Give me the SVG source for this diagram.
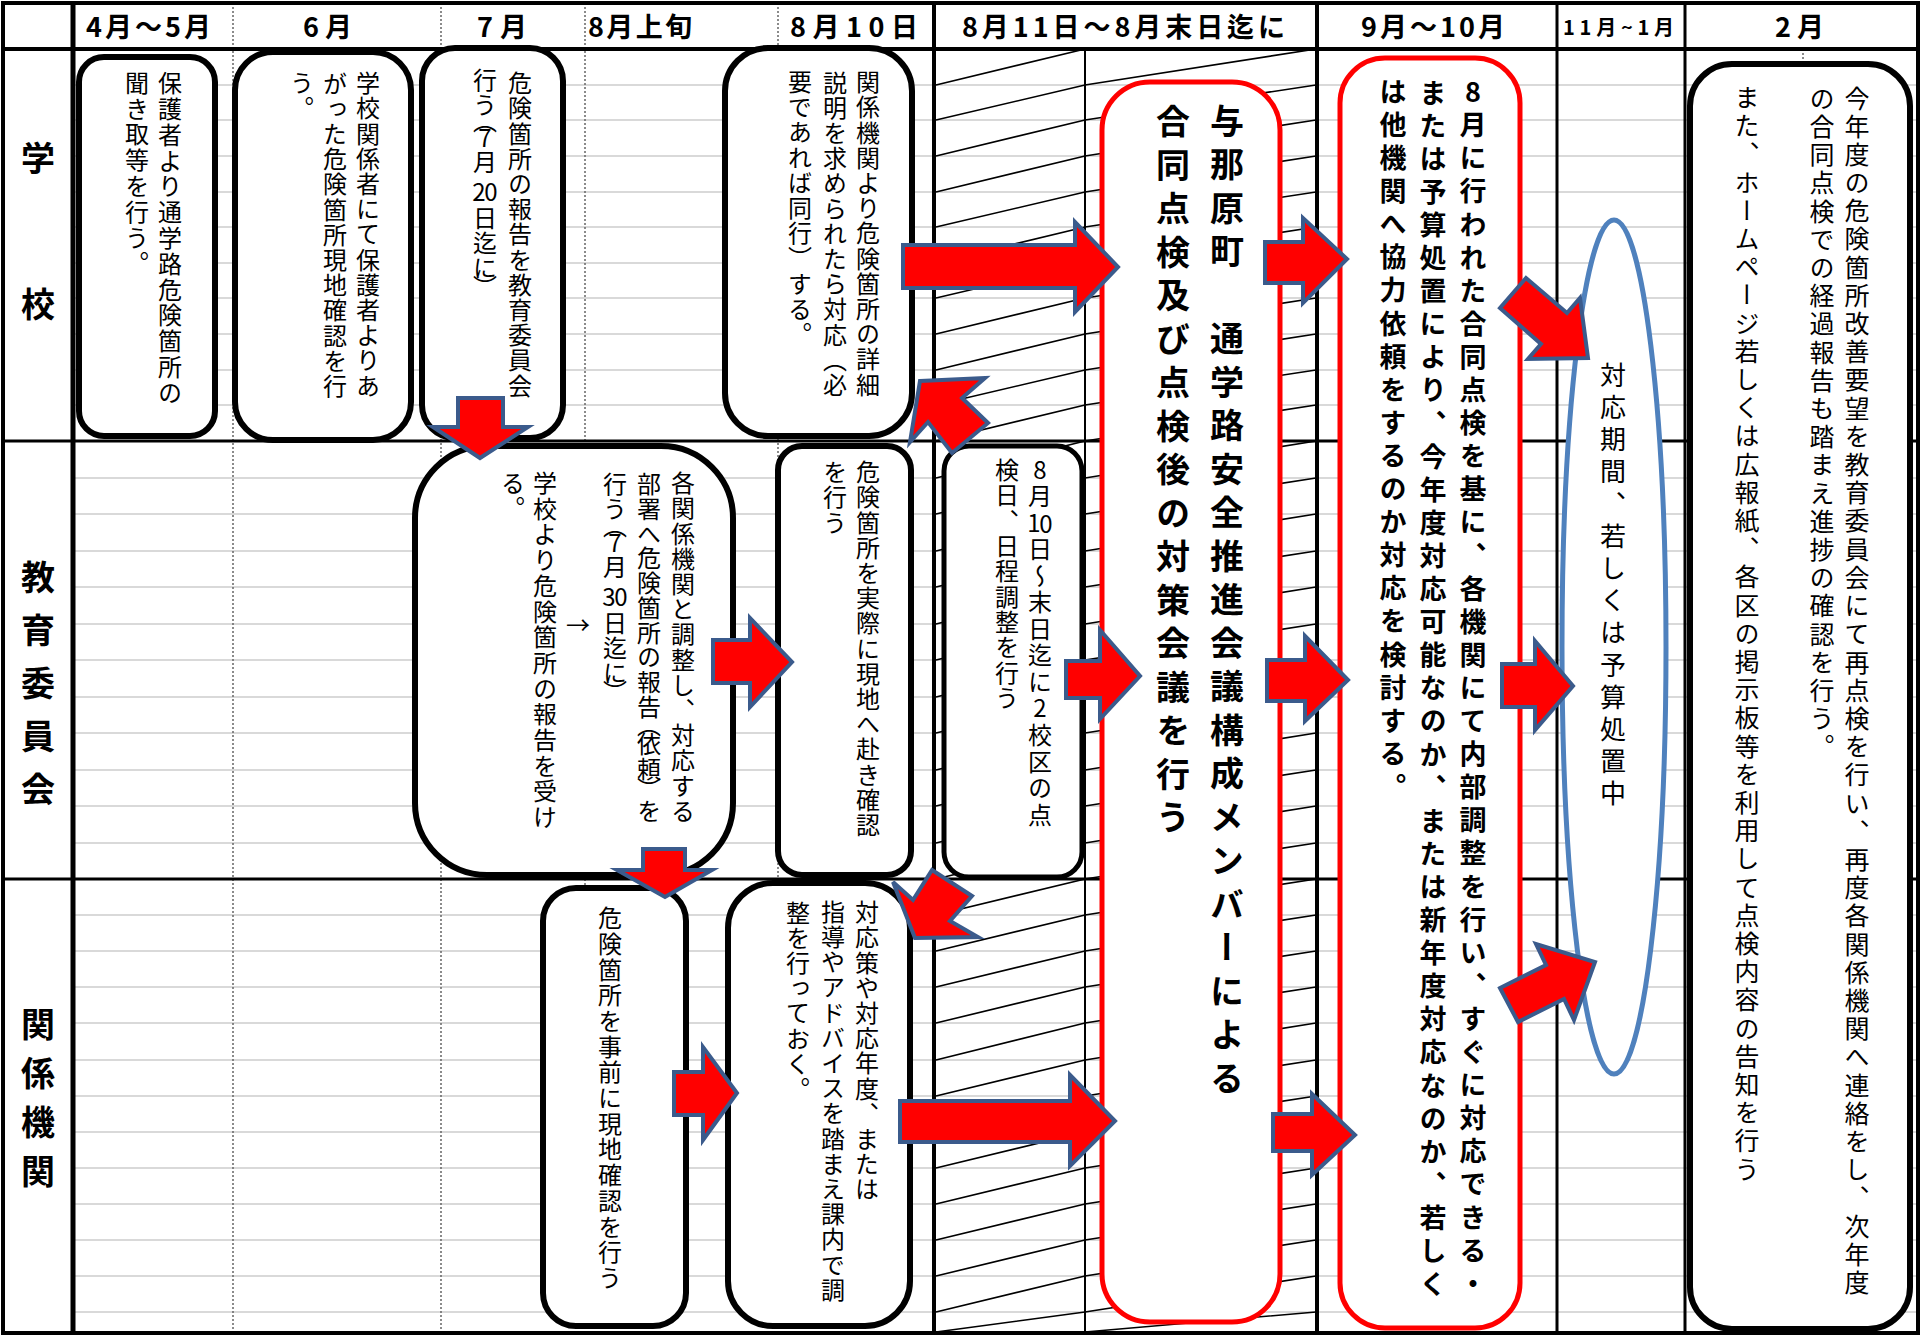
<svg xmlns="http://www.w3.org/2000/svg" width="1921" height="1336" viewBox="0 0 1921 1336">
<style>
text{font-family:"Noto Sans CJK JP","Noto Sans CJK SC",sans-serif;fill:#000}
.vt{writing-mode:vertical-rl;font-size:24px;letter-spacing:1.2px}
.up{text-orientation:upright}
.hd{font-size:27px;font-weight:bold}
.lb{writing-mode:vertical-rl;font-size:34px;font-weight:bold}
.bk{fill:#fff;stroke:#000;stroke-width:6}
.rd{fill:#fff;stroke:#f00;stroke-width:5}
.arr{fill:#f00;stroke:#3b5b8c;stroke-width:4;stroke-linejoin:miter}
.grid{stroke:#d9d9d9;stroke-width:2;fill:none}
.hatch{stroke:#000;stroke-width:1.6;fill:none}
.ln{stroke:#000;fill:none}
.dot{stroke:#666;stroke-width:1.5;stroke-dasharray:2 2;fill:none}
</style>
<rect width="1921" height="1336" fill="#fff"/>
<g id="table">
<path class="grid" d="M75 85H1916M75 120H1916M75 156H1916M75 192H1916M75 227H1916M75 263H1916M75 298H1916M75 334H1916M75 370H1916M75 405H1916M75 478H1916M75 514H1916M75 551H1916M75 587H1916M75 624H1916M75 660H1916M75 697H1916M75 733H1916M75 770H1916M75 806H1916M75 843H1916M75 915H1916M75 951H1916M75 987H1916M75 1023H1916M75 1060H1916M75 1096H1916M75 1132H1916M75 1168H1916M75 1204H1916M75 1240H1916M75 1276H1916M75 1312H1916"/>
<path class="hatch" d="M936 85L1085 49M936 120L1085 85M936 156L1085 120M936 192L1085 156M936 227L1085 192M936 263L1085 227M936 298L1085 263M936 334L1085 298M936 370L1085 334M936 405L1085 370M936 441L1085 405M936 478L1085 441M936 514L1085 478M936 551L1085 514M936 587L1085 551M936 624L1085 587M936 660L1085 624M936 697L1085 660M936 733L1085 697M936 770L1085 733M936 806L1085 770M936 843L1085 806M936 879L1085 843M936 915L1085 879M936 951L1085 915M936 987L1085 951M936 1023L1085 987M936 1060L1085 1023M936 1096L1085 1060M936 1132L1085 1096M936 1168L1085 1132M936 1204L1085 1168M936 1240L1085 1204M936 1276L1085 1240M936 1312L1085 1276M936 1332L1085 1312"/>
<path class="hatch" d="M1085 85L1316 49M1085 120L1316 85M1085 156L1316 120M1085 192L1316 156M1085 227L1316 192M1085 263L1316 227M1085 298L1316 263M1085 334L1316 298M1085 370L1316 334M1085 405L1316 370M1085 441L1316 405M1085 478L1316 441M1085 514L1316 478M1085 551L1316 514M1085 587L1316 551M1085 624L1316 587M1085 660L1316 624M1085 697L1316 660M1085 733L1316 697M1085 770L1316 733M1085 806L1316 770M1085 843L1316 806M1085 879L1316 843M1085 915L1316 879M1085 951L1316 915M1085 987L1316 951M1085 1023L1316 987M1085 1060L1316 1023M1085 1096L1316 1060M1085 1132L1316 1096M1085 1168L1316 1132M1085 1204L1316 1168M1085 1240L1316 1204M1085 1276L1316 1240M1085 1312L1316 1276M1085 1332L1316 1312"/>
<path class="dot" d="M233 3V1333M441 3V1333M585 3V1333M778 3V1333M1803 49V70"/>
<path class="ln" stroke-width="2" d="M1085 49V1333"/>
<path class="ln" stroke-width="3" d="M3 441H1918M3 879H1918M1557 3V1333M1685 3V1333"/>
<path class="ln" stroke-width="4" d="M3 49H1918M934 3V1333M1317 3V1333"/>
<path class="ln" stroke-width="5" d="M73 3V1333"/>
<rect class="ln" stroke-width="4" x="3" y="3" width="1915" height="1330"/>
<text class="hd" x="86" y="37" textLength="125" lengthAdjust="spacing">4月～5月</text>
<text class="hd" x="303" y="37" textLength="49" lengthAdjust="spacing">6月</text>
<text class="hd" x="477" y="37" textLength="50" lengthAdjust="spacing">7月</text>
<text class="hd" x="588" y="37" textLength="104" lengthAdjust="spacing">8月上旬</text>
<text class="hd" x="790" y="37" textLength="128" lengthAdjust="spacing">8月10日</text>
<text class="hd" x="962" y="37" textLength="323" lengthAdjust="spacing">8月11日～8月末日迄に</text>
<text class="hd" x="1361" y="37" textLength="144" lengthAdjust="spacing">9月～10月</text>
<text class="hd" x="1563" y="35" style="font-size:20px" textLength="111" lengthAdjust="spacing">11月~1月</text>
<text class="hd" x="1775" y="37" textLength="49" lengthAdjust="spacing">2月</text>
<text class="lb" x="38" y="141" style="letter-spacing:112px">学校</text>
<text class="lb" x="38" y="560" style="letter-spacing:19px">教育委員会</text>
<text class="lb" x="38" y="1007" style="letter-spacing:15px">関係機関</text>
</g>
<g id="node-a"><rect class="bk" x="79" y="57" width="136" height="379" rx="25"/>
<text class="vt" style="letter-spacing:1.8px"><tspan x="170" y="71">保護者より通学路危険箇所の</tspan><tspan x="137" y="71">聞き取等を行う。</tspan></text></g>
<g id="node-b"><rect class="bk" x="235" y="52" width="176" height="388" rx="38"/>
<text class="vt"><tspan x="368" y="71">学校関係者にて保護者よりあ</tspan><tspan x="335" y="71">がった危険箇所現地確認を行</tspan><tspan x="302" y="71">う。</tspan></text></g>
<g id="node-c"><rect class="bk" x="422" y="48" width="141" height="390" rx="33"/>
<text class="vt up"><tspan x="520" y="71">危険箇所の報告を教育委員会</tspan><tspan x="485" y="67">行う</tspan><tspan x="485" y="109">（</tspan><tspan x="485" y="126">7</tspan><tspan x="485" y="150">月</tspan><tspan x="479" y="180">2</tspan><tspan x="491" y="180">0</tspan><tspan x="485" y="206">日迄に</tspan><tspan x="485" y="275">）</tspan></text></g>
<g id="node-d"><rect class="bk" x="725" y="48" width="187" height="388" rx="43"/>
<text class="vt"><tspan x="868" y="70">関係機関より危険箇所の詳細</tspan><tspan x="835" y="70">説明を求められたら対応（必</tspan><tspan x="800" y="70">要であれば同行）する。</tspan></text></g>
<g id="node-e"><rect class="bk" x="778" y="446" width="133" height="429" rx="24"/>
<text class="vt"><tspan x="868" y="460">危険箇所を実際に現地へ赴き確認</tspan><tspan x="835" y="460">を行う</tspan></text></g>
<g id="node-f"><rect class="bk" x="415" y="446" width="318" height="429" rx="72"/>
<text class="vt up"><tspan x="683" y="471">各関係機関と調整し、対応する</tspan><tspan x="649" y="472" style="letter-spacing:0.7px">部署へ危険箇所の報告</tspan><tspan x="649" y="713">（</tspan><tspan x="649" y="732">依頼</tspan><tspan x="649" y="777">）</tspan><tspan x="649" y="799">を</tspan><tspan x="615" y="472">行う</tspan><tspan x="615" y="514">（</tspan><tspan x="615" y="531">7</tspan><tspan x="615" y="555">月</tspan><tspan x="609" y="585">3</tspan><tspan x="621" y="585">0</tspan><tspan x="615" y="611">日迄に</tspan><tspan x="615" y="680">）</tspan><tspan x="545" y="471" style="letter-spacing:1.7px">学校より危険箇所の報告を受け</tspan><tspan x="513" y="471">る。</tspan></text>
<text x="578" y="634" font-size="24" text-anchor="middle">→</text></g>
<g id="node-g"><rect class="bk" x="543" y="888" width="143" height="438" rx="33"/>
<text class="vt" style="letter-spacing:1.7px"><tspan x="610" y="906">危険箇所を事前に現地確認を行う</tspan></text></g>
<g id="node-h"><rect class="bk" x="728" y="883" width="182" height="443" rx="45"/>
<text class="vt"><tspan x="867" y="900">対応策や対応年度、または</tspan><tspan x="833" y="900">指導やアドバイスを踏まえ課内で調</tspan><tspan x="798" y="900">整を行っておく。</tspan></text></g>
<g id="node-i"><rect class="bk" style="stroke-width:5" x="944" y="446" width="138" height="431" rx="25"/>
<text class="vt up"><tspan x="1040" y="458">8</tspan><tspan x="1040" y="484">月</tspan><tspan x="1034" y="511">1</tspan><tspan x="1046" y="511">0</tspan><tspan x="1040" y="537" style="letter-spacing:2.5px">日～末日迄に</tspan><tspan x="1040" y="696">2</tspan><tspan x="1040" y="723" style="letter-spacing:2.5px">校区の点</tspan><tspan x="1007" y="458" style="letter-spacing:1.3px">検日、日程調整を行う</tspan></text></g>
<g id="node-j"><rect class="rd" x="1102" y="82" width="178" height="1240" rx="48"/>
<text class="vt" style="font-size:34px;font-weight:bold;letter-spacing:9.5px"><tspan x="1227" y="104">与那原町　通学路安全推進会議構成メンバーによる</tspan><tspan x="1173" y="104">合同点検及び点検後の対策会議を行う</tspan></text></g>
<g id="node-k"><rect class="rd" x="1340" y="58" width="180" height="1270" rx="45"/>
<text class="vt up" style="font-size:27px;font-weight:bold;letter-spacing:6.1px"><tspan x="1473" y="78.5">8</tspan><tspan x="1473" y="111.6">月に行われた合同点検を基に、各機関にて内部調整を行い、すぐに対応できる・</tspan><tspan x="1433" y="78.5">または予算処置により、今年度対応可能なのか、または新年度対応なのか、若しく</tspan><tspan x="1393" y="78.5">は他機関へ協力依頼をするのか対応を検討する。</tspan></text></g>
<g id="node-l"><ellipse cx="1614" cy="647" rx="52" ry="427" fill="#fff" stroke="#4f81bd" stroke-width="5"/>
<text class="vt" style="font-size:26px;letter-spacing:6.2px"><tspan x="1613" y="362">対応期間、若しくは予算処置中</tspan></text></g>
<g id="node-m"><rect class="bk" x="1690" y="64" width="220" height="1265" rx="42"/>
<text class="vt" style="font-size:25px;letter-spacing:3.2px"><tspan x="1857" y="85.5">今年度の危険箇所改善要望を教育委員会にて再点検を行い、再度各関係機関へ連絡をし、次年度</tspan><tspan x="1822" y="85.5">の合同点検での経過報告も踏まえ進捗の確認を行う。</tspan><tspan x="1747" y="85.5">また、ホームページ若しくは広報紙、各区の掲示板等を利用して点検内容の告知を行う</tspan></text></g>
<g id="connectors">
<polygon class="arr" points="903,245 1075,245 1075,222 1118,267 1075,312 1075,288 903,288"/>
<polygon class="arr" points="920,381 985,378 962,398 988,423 952,453 928,422 910,442"/>
<polygon class="arr" points="932,870 972,896 950,921 978,937 915,938 893,882 913,900"/>
<polygon class="arr" points="713,640 750,640 750,618 792,662 750,707 750,683 713,683"/>
<polygon class="arr" points="458,398 503,398 503,427 528,427 480,458 433,427 458,427"/>
<polygon class="arr" points="643,849 685,849 685,870 712,870 665,897 617,870 643,870"/>
<polygon class="arr" points="674,1072 703,1072 703,1047 737,1093 703,1140 703,1115 674,1115"/>
<polygon class="arr" points="1066,661 1100,661 1100,630 1140,676 1100,719 1100,698 1066,698"/>
<polygon class="arr" points="900,1101 1070,1101 1070,1075 1115,1121 1070,1166 1070,1142 900,1142"/>
<polygon class="arr" points="1265,242 1303,242 1303,218 1347,259 1303,303 1303,283 1265,283"/>
<polygon class="arr" points="1267,660 1305,660 1305,636 1348,680 1305,721 1305,701 1267,701"/>
<polygon class="arr" points="1273,1114 1312,1114 1312,1094 1355,1135 1312,1175 1312,1151 1273,1151"/>
<polygon class="arr" points="1526,278 1500,308 1541,344 1528,359 1588,358 1580,298 1567,313"/>
<polygon class="arr" points="1502,664 1535,664 1535,641 1573,686 1535,730 1535,707 1502,707"/>
<polygon class="arr" points="1500,988 1546,965 1536,944 1595,962 1574,1020 1564,999 1518,1022"/>
</g>
</svg>
